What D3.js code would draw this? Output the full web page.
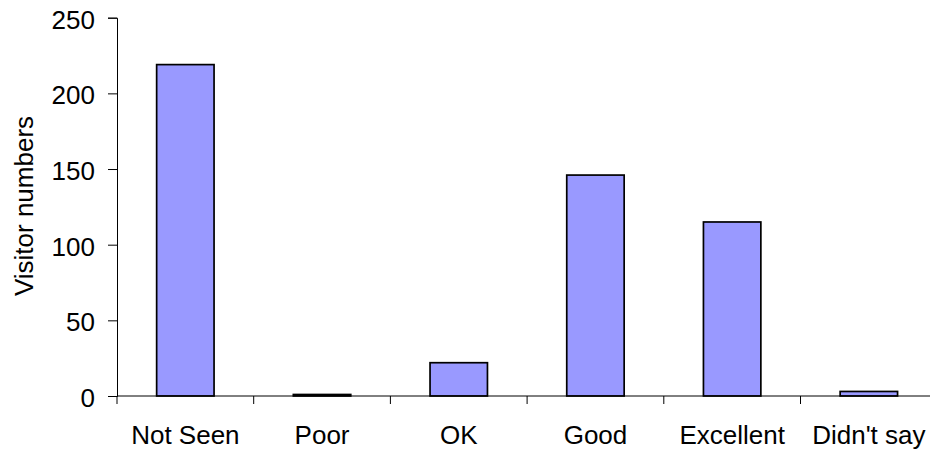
<!DOCTYPE html>
<html>
<head>
<meta charset="utf-8">
<title>Visitor numbers</title>
<style>
  body { margin: 0; background: #fff; }
  svg text { font-family: "Liberation Sans", Arial, sans-serif; fill: #000; }
</style>
</head>
<body>
<div id="chart"></div>
<script src="https://d3js.org/d3.v7.min.js"></script>
<script>
// data
const categories = ["Not Seen", "Poor", "OK", "Good", "Excellent", "Didn't say"];
const visitors = [219, 1, 22, 146, 115, 3];
const yTicks = [0, 50, 100, 150, 200, 250];

const W = 930, H = 455;
const margin = { top: 17.7, left: 117, bottom: 59 };
const step = 136.7;
const plotH = H - margin.top - margin.bottom;

const svg = d3.select("#chart").append("svg")
  .attr("width", W)
  .attr("height", H);

// scales
const x = d3.scaleBand()
  .domain(categories)
  .range([margin.left, margin.left + step * categories.length])
  .padding(0);
const y = d3.scaleLinear()
  .domain([0, 250])
  .range([margin.top + plotH, margin.top]);

const barW = x.bandwidth() * 0.42;

// bars
svg.append("g").selectAll("rect")
  .data(categories)
  .join("rect")
  .attr("x", d => x(d) + (x.bandwidth() - barW) / 2)
  .attr("y", (d, i) => y(visitors[i]))
  .attr("width", barW)
  .attr("height", (d, i) => y(0) - y(visitors[i]))
  .attr("fill", "#9999ff")
  .attr("stroke", "#000")
  .attr("stroke-width", 1.7);

// y axis
const yAxis = svg.append("g")
  .attr("transform", `translate(${margin.left},0)`)
  .call(d3.axisLeft(y).tickValues(yTicks).tickSize(9).tickPadding(13));
yAxis.selectAll("text").style("font-size", "26px").attr("dy", "0.4em");

// x axis, ticks at band boundaries
const xAxis = svg.append("g")
  .attr("transform", `translate(0,${y(0)})`)
  .call(d3.axisBottom(x).tickSize(0).tickPadding(30));
xAxis.selectAll("text").style("font-size", "26px").attr("dy", "0.71em");
xAxis.select(".domain").remove();
xAxis.append("line")
  .attr("x1", margin.left).attr("x2", W + 20)
  .attr("stroke", "#000");
xAxis.selectAll(".bound")
  .data(d3.range(categories.length + 1))
  .join("line")
  .attr("class", "bound")
  .attr("x1", i => margin.left + i * step)
  .attr("x2", i => margin.left + i * step)
  .attr("y1", 0).attr("y2", 8)
  .attr("stroke", "#000");

svg.selectAll(".domain, .tick line").attr("stroke", "#000");

// axis title
svg.append("text")
  .attr("transform", `translate(33,206) rotate(-90)`)
  .attr("text-anchor", "middle")
  .style("font-size", "26px")
  .text("Visitor numbers");
</script>
</body>
</html>
